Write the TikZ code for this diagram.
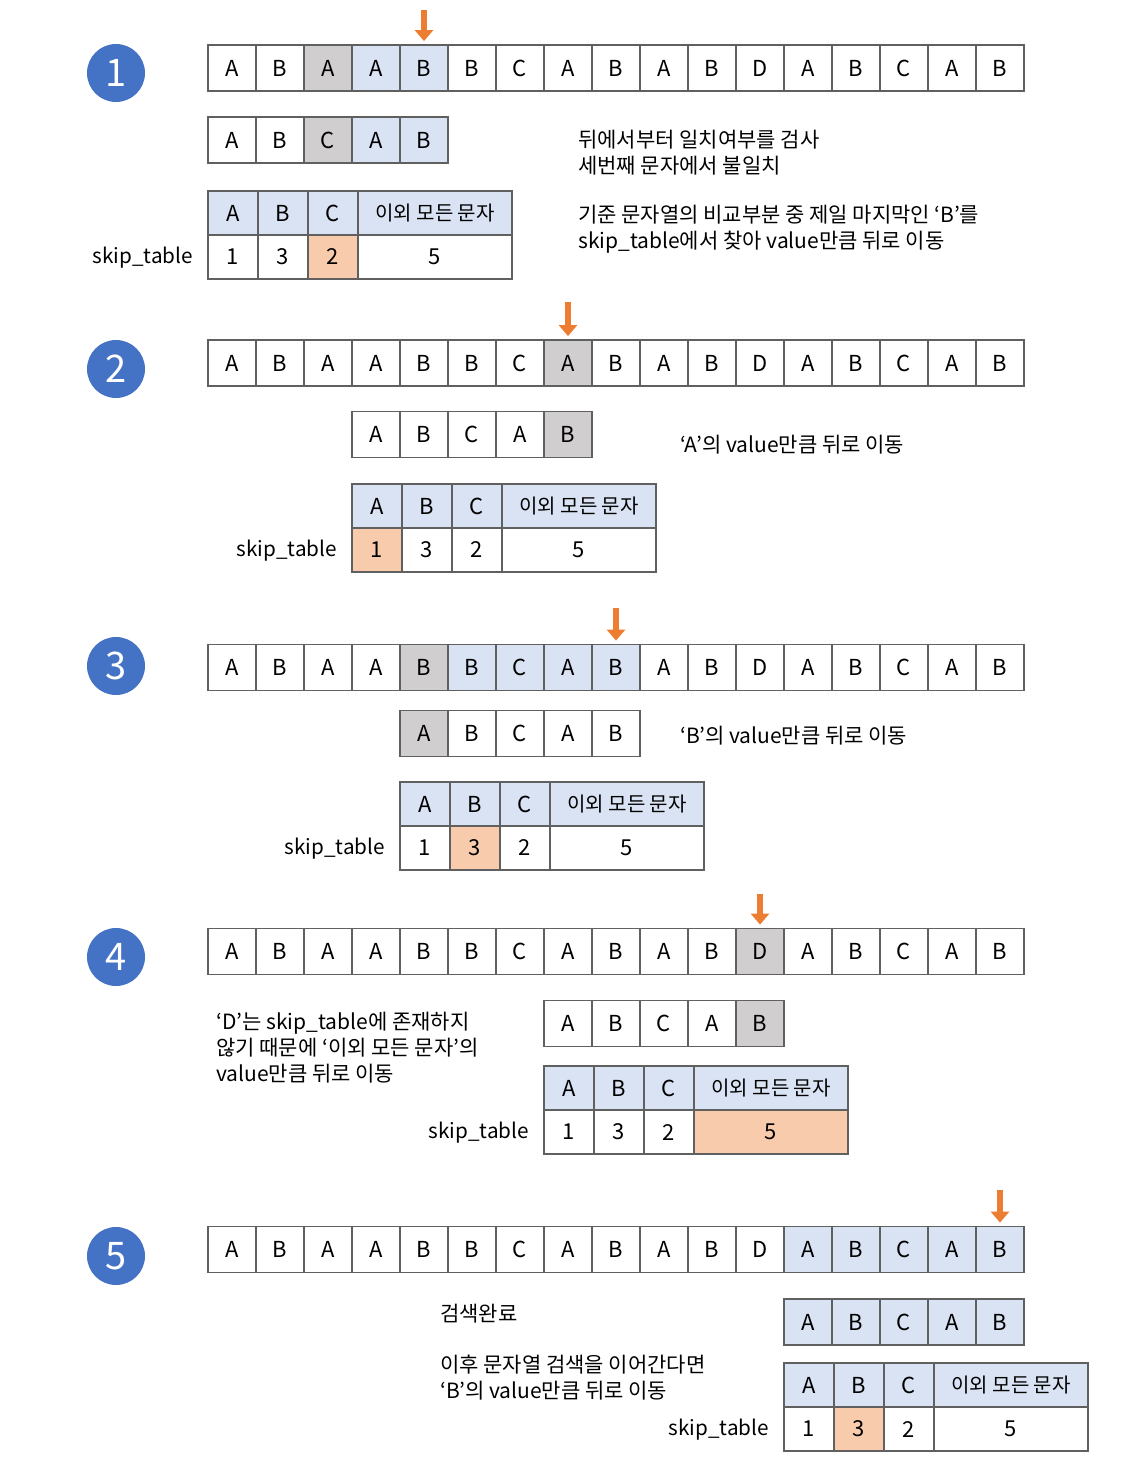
\documentclass[tikz,border=0pt]{standalone}
\usepackage{fontspec}
\setmainfont{Noto Sans CJK KR}
\usetikzlibrary{arrows.meta}
\definecolor{bordc}{HTML}{606060}
\definecolor{lblue}{HTML}{DAE3F3}
\definecolor{lgray}{HTML}{D0CECE}
\definecolor{lorange}{HTML}{F8CBAD}
\definecolor{cblue}{HTML}{4472C4}
\definecolor{aorange}{HTML}{ED7D31}
\tikzset{
  cell/.style={draw=bordc, line width=1.8pt, minimum width=48pt, minimum height=46pt, inner sep=0pt, font=\fontsize{22}{22}\selectfont},
  tcell/.style={cell, minimum width=50pt, minimum height=44pt},
  wcell/.style={cell, minimum width=154pt, minimum height=44pt},
  numc/.style={circle, fill=cblue, minimum size=58pt, inner sep=0pt, text=white, font=\fontsize{38}{38}\selectfont},
  txt/.style={anchor=west, align=left, inner sep=0pt, font=\fontsize{21}{26}\selectfont},
  lbl/.style={anchor=east, inner sep=0pt, font=\fontsize{20.7}{26}\selectfont},
  ptr/.style={draw=aorange, line width=6pt, -{Triangle[width=18pt,length=11pt]}}
}
\newcommand\strrow[4]{%
  \foreach \l/\f [count=\i] in {#4} {\node[cell, fill=\f] (#1-\i) at ({#2+(\i-0.5)*48},#3) {\l};}}
\newcommand\skiptab[7]{%
  \node[tcell, fill=lblue] (#1-hA) at (#2+25,#3) {A};
  \node[tcell, fill=lblue] (#1-hB) at (#2+75,#3) {B};
  \node[tcell, fill=lblue] (#1-hC) at (#2+125,#3) {C};
  \node[wcell, fill=lblue, font=\fontsize{20}{20}\selectfont] (#1-hR) at (#2+227,#3) {이외 모든 문자};
  \node[tcell, fill=#4] (#1-vA) at (#2+25,#3+44) {1};
  \node[tcell, fill=#5] (#1-vB) at (#2+75,#3+44) {3};
  \node[tcell, fill=#6] (#1-vC) at (#2+125,#3+44) {2};
  \node[wcell, fill=#7] (#1-vR) at (#2+227,#3+44) {5};
  \node[lbl] (#1-lbl) at (#2-15,#3+45) {skip\_table};}
\begin{document}
\begin{tikzpicture}[x=1pt,y=-1pt]
\useasboundingbox (0,0) rectangle (1127,1478);
% ---------- step 1
\node[numc] (c1) at (116,73) {1};
\strrow{r1}{208}{68}{A/white,B/white,A/lgray,A/lblue,B/lblue,B/white,C/white,A/white,B/white,A/white,B/white,D/white,A/white,B/white,C/white,A/white,B/white}
\coordinate (a1) at (424,10);
\draw[ptr] (a1) -- ([yshift=3pt]r1-5.north);
\strrow{p1}{208}{140}{A/white,B/white,C/lgray,A/lblue,B/lblue}
\skiptab{t1}{208}{213}{white}{white}{lorange}{white}
\node[txt] (n1) at (578,153) {뒤에서부터 일치여부를 검사\\세번째 문자에서 불일치};
\node[txt] (n2) at (578,229) {기준 문자열의 비교부분 중 제일 마지막인 ‘B’를\\skip\_table에서 찾아 value만큼 뒤로 이동};
% ---------- step 2
\node[numc] (c2) at (116,369) {2};
\strrow{r2}{208}{363}{A/white,B/white,A/white,A/white,B/white,B/white,C/white,A/lgray,B/white,A/white,B/white,D/white,A/white,B/white,C/white,A/white,B/white}
\coordinate (a2) at (568,302);
\draw[ptr] (a2) -- ([yshift=3pt]r2-8.north);
\strrow{p2}{352}{434.5}{A/white,B/white,C/white,A/white,B/lgray}
\skiptab{t2}{352}{506}{lorange}{white}{white}{white}
\node[txt] (n3) at (680,445) {‘A’의 value만큼 뒤로 이동};
% ---------- step 3
\node[numc] (c3) at (116,666) {3};
\strrow{r3}{208}{667.5}{A/white,B/white,A/white,A/white,B/lgray,B/lblue,C/lblue,A/lblue,B/lblue,A/white,B/white,D/white,A/white,B/white,C/white,A/white,B/white}
\coordinate (a3) at (616,608);
\draw[ptr] (a3) -- ([yshift=3pt]r3-9.north);
\strrow{p3}{400}{733.5}{A/lgray,B/white,C/white,A/white,B/white}
\skiptab{t3}{400}{804}{white}{lorange}{white}{white}
\node[txt] (n4) at (680,736) {‘B’의 value만큼 뒤로 이동};
% ---------- step 4
\node[numc] (c4) at (116,957) {4};
\strrow{r4}{208}{951.5}{A/white,B/white,A/white,A/white,B/white,B/white,C/white,A/white,B/white,A/white,B/white,D/lgray,A/white,B/white,C/white,A/white,B/white}
\coordinate (a4) at (760,894);
\draw[ptr] (a4) -- ([yshift=3pt]r4-12.north);
\strrow{p4}{544}{1023.5}{A/white,B/white,C/white,A/white,B/lgray}
\skiptab{t4}{544}{1088}{white}{white}{white}{lorange}
\node[txt] (n5) at (216,1047.5) {‘D’는 skip\_table에 존재하지\\않기 때문에 ‘이외 모든 문자’의\\value만큼 뒤로 이동};
% ---------- step 5
\node[numc] (c5) at (116,1256) {5};
\strrow{r5}{208}{1249.5}{A/white,B/white,A/white,A/white,B/white,B/white,C/white,A/white,B/white,A/white,B/white,D/white,A/lblue,B/lblue,C/lblue,A/lblue,B/lblue}
\coordinate (a5) at (1000,1190);
\draw[ptr] (a5) -- ([yshift=3pt]r5-17.north);
\strrow{p5}{784}{1322}{A/lblue,B/lblue,C/lblue,A/lblue,B/lblue}
\skiptab{t5}{784}{1385}{white}{lorange}{white}{white}
\node[txt] (n6) at (440,1314) {검색완료};
\node[txt] (n7) at (440,1378) {이후 문자열 검색을 이어간다면\\‘B’의 value만큼 뒤로 이동};
\end{tikzpicture}
\end{document}
